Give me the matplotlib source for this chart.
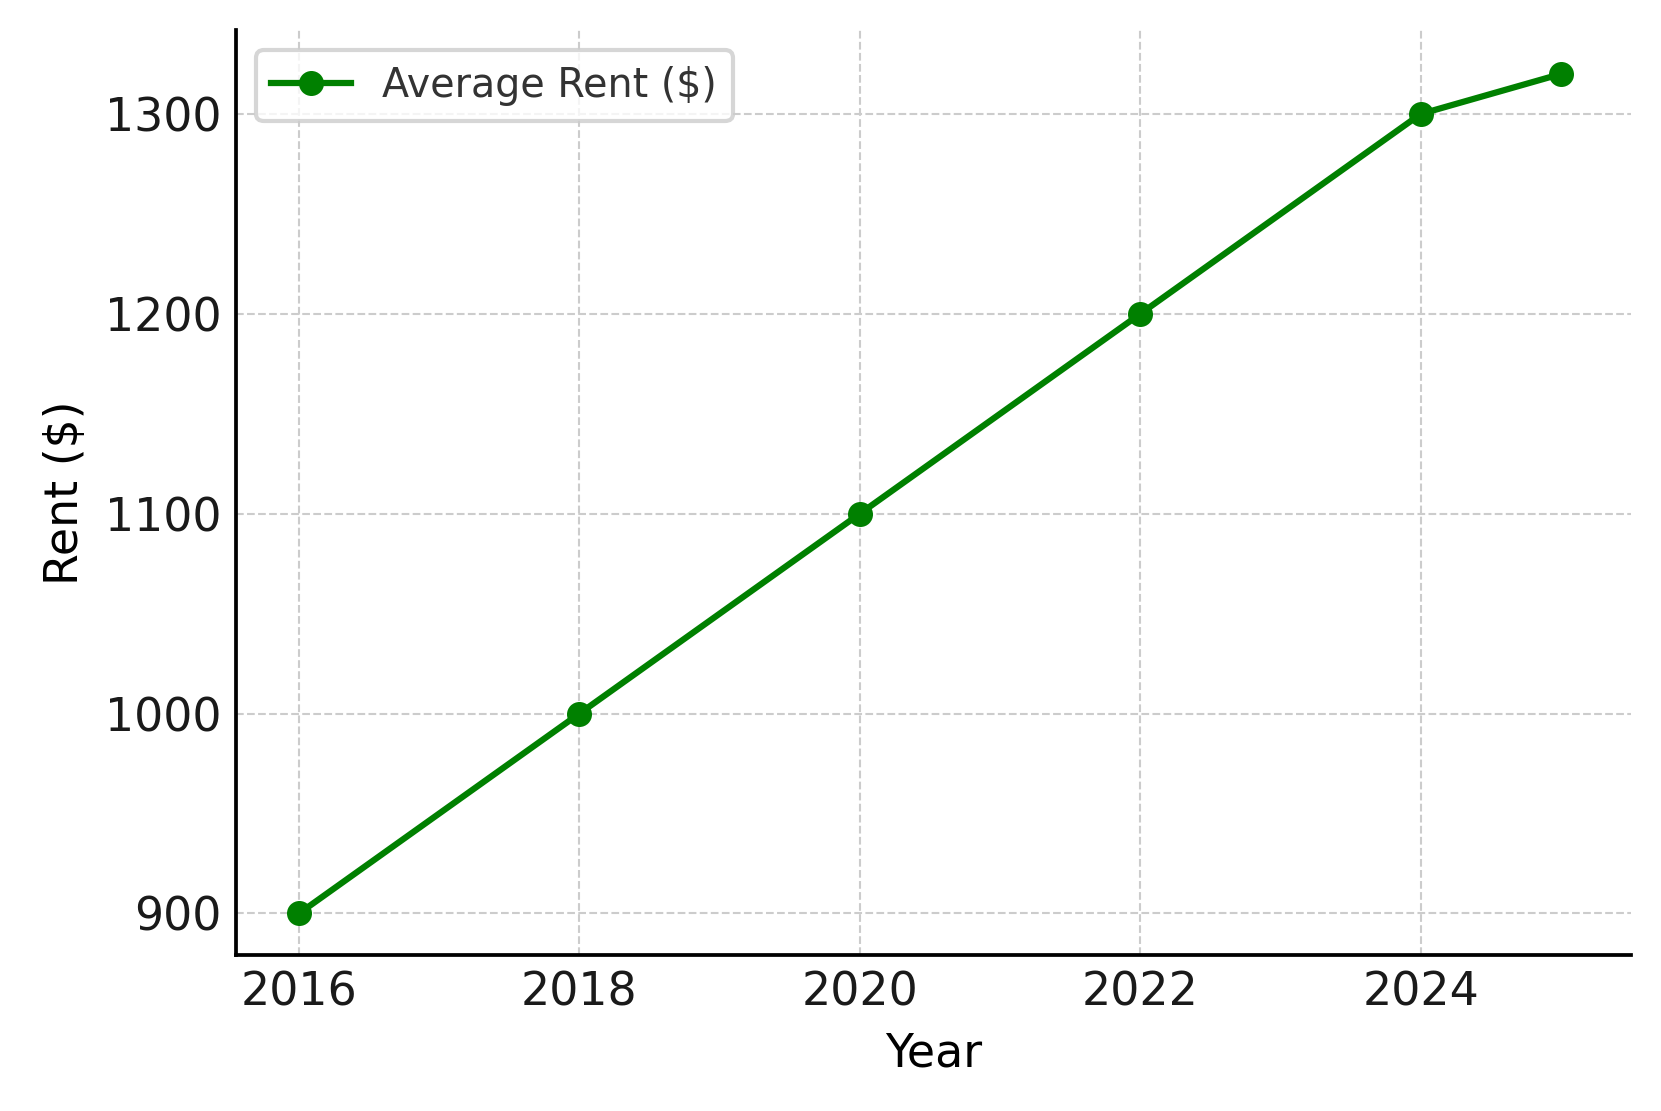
import matplotlib
matplotlib.use("Agg")
import matplotlib.pyplot as plt

years = [2016, 2018, 2020, 2022, 2024, 2025]
rent = [900, 1000, 1100, 1200, 1300, 1320]
xticks = [2016, 2018, 2020, 2022, 2024]
yticks = [900, 1000, 1100, 1200, 1300]

fig = plt.figure(figsize=(1661/300, 1111/300), dpi=300)
ax = fig.add_axes([0.142, 0.140, 0.840, 0.833])
ax.plot(years, rent, color="green", marker="o", linewidth=1.5, markersize=5, label="Average Rent ($)")
ax.set_xticks(xticks)
ax.set_yticks(yticks)
ax.set_xlim(2015.55, 2025.5)
ax.set_ylim(879, 1342)
ax.grid(True, linestyle="--", linewidth=0.5, color="#cccccc")
ax.tick_params(direction="in", length=0, labelsize=11, colors="#1a1a1a")
for s in ["top", "right"]:
    ax.spines[s].set_visible(False)
for s in ["left", "bottom"]:
    ax.spines[s].set_linewidth(0.9)
ax.set_xlabel("Year", fontsize=11)
ax.set_ylabel("Rent ($)", fontsize=11)
leg = ax.legend(loc="upper left", fontsize=9.5, frameon=True, fancybox=True)
for t in leg.get_texts():
    t.set_color("#333333")
fig.savefig("out.png", dpi=300)
